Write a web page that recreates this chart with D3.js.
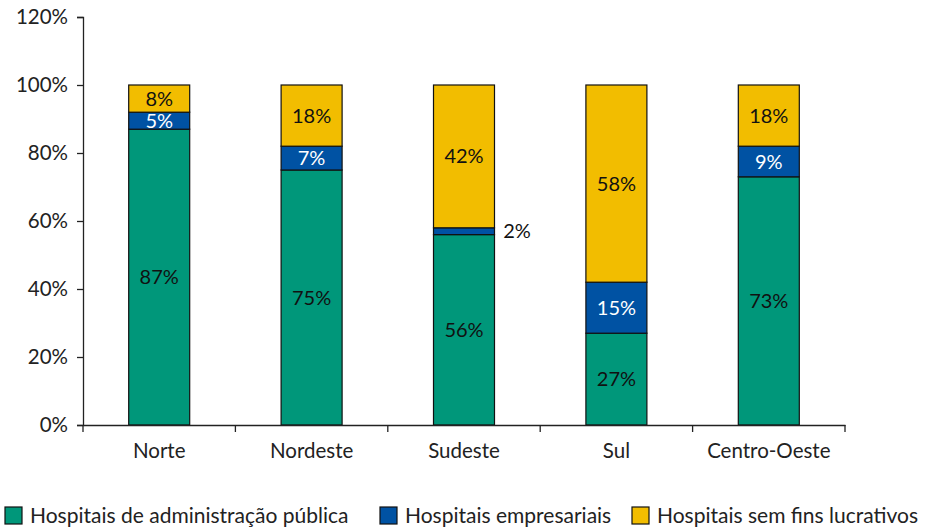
<!DOCTYPE html>
<html><head><meta charset="utf-8">
<script src="https://cdn.jsdelivr.net/npm/d3@7"></script>
<style>body{margin:0;background:#fff}svg{display:block}text{font-family:Lato,"Open Sans",sans-serif}</style>
</head><body><svg id="c" width="933" height="528"></svg>
<script>
const categories = ["Norte","Nordeste","Sudeste","Sul","Centro-Oeste"];
const publica = [87,75,56,27,73];
const empresariais = [5,7,2,15,9];
const semFins = [8,18,42,58,18];
const seriesNames = ["Hospitais de administração pública","Hospitais empresariais","Hospitais sem fins lucrativos"];
const colors = ["#00977A","#0052A3","#F2BD00"];
const labelColors = ["#111","#fff","#111"];
const yTicks = [0,20,40,60,80,100,120];

const svg = d3.select("#c");
const m = {l:83, r:88, t:17, b:103};
const W = 933, H = 528;
const xb = d3.scaleBand().domain(categories).range([m.l, W-m.r]);
const y = d3.scaleLinear().domain([0,120]).range([H-m.b, m.t]);

const data = categories.map((c,i)=>({cat:c, s0:publica[i], s1:empresariais[i], s2:semFins[i]}));
const stack = d3.stack().keys(["s0","s1","s2"])(data);

// bars
stack.forEach((layer,k)=>{
  svg.append("g").selectAll("rect").data(layer).join("rect")
    .attr("x", d=>xb(d.data.cat)+xb.bandwidth()/2-30.5)
    .attr("width", 61)
    .attr("y", d=>y(d[1]))
    .attr("height", d=>y(d[0])-y(d[1]))
    .attr("fill", colors[k]).attr("stroke","#111").attr("stroke-width",1.2);
});
// labels
stack.forEach((layer,k)=>{
  svg.append("g").selectAll("text").data(layer).join("text")
    .attr("x", d=>{ const v=d[1]-d[0]; const cx=xb(d.data.cat)+xb.bandwidth()/2; return v<4? cx+53 : cx; })
    .attr("y", d=>(y(d[0])+y(d[1]))/2+7)
    .attr("text-anchor","middle")
    .attr("font-size",20)
    .attr("fill", d=> (d[1]-d[0])<4 ? "#111" : labelColors[k])
    .text(d=>(d[1]-d[0])+"%");
});

// y axis
const ya = svg.append("g").attr("transform",`translate(${m.l},0)`)
  .call(d3.axisLeft(y).tickValues(yTicks).tickFormat(d=>d+"%").tickSize(6).tickPadding(9));
ya.select(".domain").attr("stroke","#222").attr("stroke-width",1.3);
ya.selectAll(".tick line").attr("stroke","#222").attr("stroke-width",1.3);
ya.selectAll(".tick text").attr("font-size",20.5).attr("fill","#222").attr("font-family","Lato");

// x axis
const xa = svg.append("g").attr("transform",`translate(0,${y(0)})`)
  .call(d3.axisBottom(xb).tickSize(0).tickPadding(18).tickSizeOuter(0));
xa.select(".domain").attr("stroke","#222").attr("stroke-width",1.3);
xa.selectAll(".tick text").attr("font-size",20.5).attr("fill","#222").attr("font-family","Lato");
const bounds = categories.map(c=>xb(c)).concat([xb.range()[1]]);
xa.selectAll("line.sep").data(bounds).join("line").attr("class","sep")
  .attr("x1",d=>d).attr("x2",d=>d).attr("y1",0).attr("y2",7).attr("stroke","#222").attr("stroke-width",1.3);

// legend
const legX = [5, 380, 632];
const lg = svg.append("g");
seriesNames.forEach((n,i)=>{
  lg.append("rect").attr("x",legX[i]).attr("y",507).attr("width",17).attr("height",17)
    .attr("fill",colors[i]).attr("stroke","#111").attr("stroke-width",1.2);
  lg.append("text").attr("x",legX[i]+25).attr("y",523).attr("font-size",21).attr("fill","#222").text(n);
});
</script></body></html>
